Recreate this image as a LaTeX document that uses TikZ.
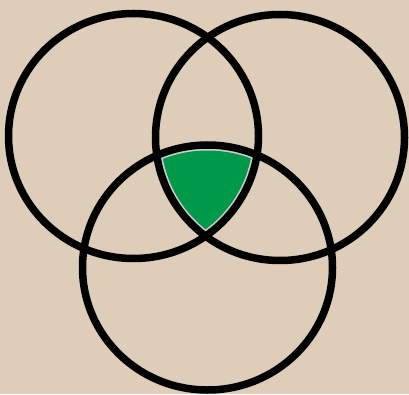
\documentclass[tikz,border=0pt]{standalone}
\definecolor{bg}{RGB}{221,205,185}
\definecolor{vgreen}{RGB}{0,153,74}
\definecolor{vgrey}{RGB}{205,205,205}
\begin{document}
\begin{tikzpicture}[x=1pt,y=1pt,
  ring/.style={draw=black,line width=7.5pt}]
\fill[bg] (0,0) rectangle (409,394);
\useasboundingbox (0,0) rectangle (409,394);
% intersection region
\begin{scope}
  \clip (133.5,258) ellipse [x radius=125,y radius=122.5];
  \clip (280,256.5) ellipse [x radius=124.5,y radius=123];
  \clip (207.5,126.5) ellipse [x radius=125,y radius=122.5];
  \fill[vgrey] (0,0) rectangle (409,394);
\end{scope}
\begin{scope}
  \clip (133.5,258) ellipse [x radius=119.5,y radius=117];
  \clip (280,256.5) ellipse [x radius=119,y radius=117.5];
  \clip (207.5,126.5) ellipse [x radius=119.5,y radius=117];
  \fill[vgreen] (0,0) rectangle (409,394);
\end{scope}
\draw[ring] (133.5,258) ellipse [x radius=125,y radius=122.5];
\draw[ring] (280,256.5) ellipse [x radius=124.5,y radius=123];
\draw[ring] (207.5,126.5) ellipse [x radius=125,y radius=122.5];
\end{tikzpicture}
\end{document}
